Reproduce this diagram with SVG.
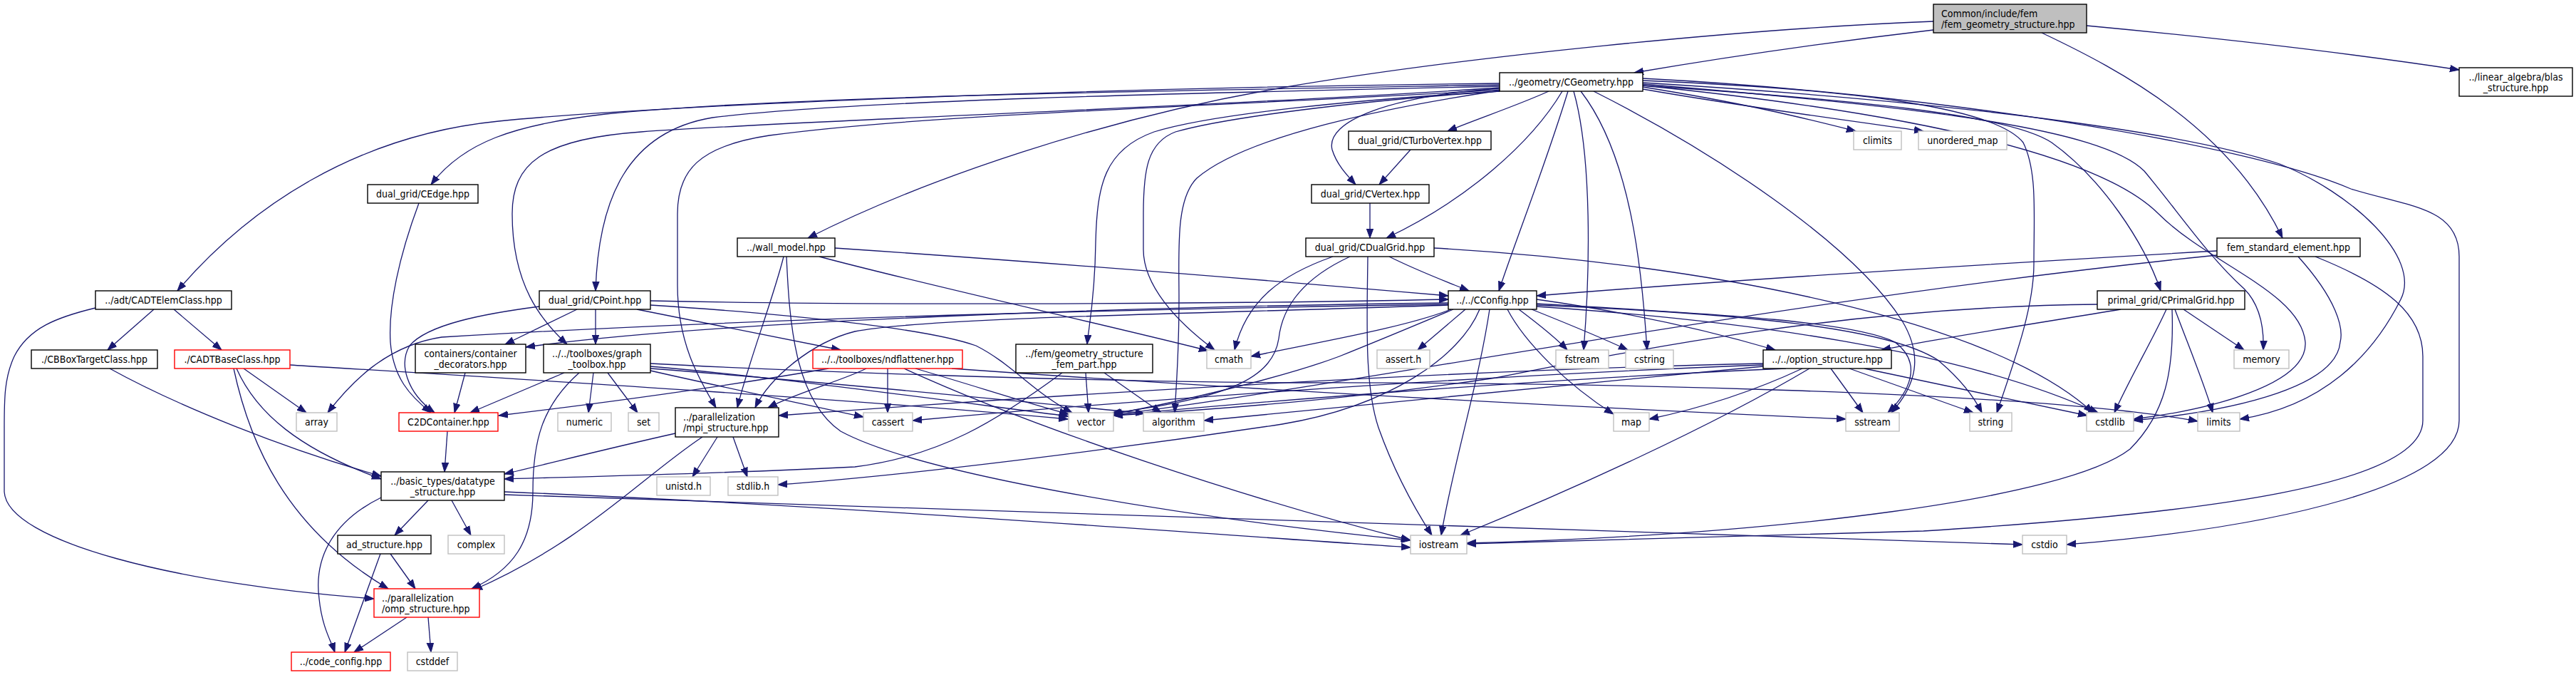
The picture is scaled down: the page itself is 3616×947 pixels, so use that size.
<svg xmlns="http://www.w3.org/2000/svg" width="3616" height="947" viewBox="0 0 3616 947">
<defs>
<style>
.e{fill:none;stroke:#191970;stroke-width:1.3;marker-end:url(#ah)}
.n rect{fill:#fff;stroke:#000;stroke-width:1.4}
.sys rect{stroke:#bfbfbf}
.red rect{stroke:#ff0000}
.root rect{fill:#bfbfbf}
text{font-family:'DejaVu Sans Condensed','DejaVu Sans',sans-serif;font-size:14px;fill:#000;text-anchor:middle}
.l text{text-anchor:start}
</style>
<marker id="ah" markerUnits="userSpaceOnUse" markerWidth="14" markerHeight="11" refX="13" refY="5.5" orient="auto"><path d="M0,0.8 L13,5.5 L0,10.2 z" fill="#191970" stroke="#191970" stroke-width="1"/></marker>
</defs>
<rect width="3616" height="947" fill="#fff"/>
<g id="edges">
<path class="e" d="M2714,42 C2560,60 2400,84 2294,102"/>
<path class="e" d="M2714,30 C2450,40 2050,80 1800,123 C1550,166 1300,250 1134,334"/>
<path class="e" d="M2866,46 C2980,100 3130,180 3204,334"/>
<path class="e" d="M2929,36 C3100,52 3300,75 3452,98"/>
<path class="e" d="M2105,117 C1600,122 950,145 700,170 C500,190 350,290 249,408"/>
<path class="e" d="M2105,119 C1600,128 1100,135 850,160 C720,175 650,200 605,259"/>
<path class="e" d="M2105,123 C1700,150 1100,170 900,185 C760,195 719,230 719,300 C719,400 760,450 796,483"/>
<path class="e" d="M2105,121 C1700,130 1200,140 1000,165 C880,185 840,280 836,408"/>
<path class="e" d="M2105,126 C1700,150 1300,160 1080,190 C980,205 951,240 951,300 L951,400 C951,480 980,530 1005,572"/>
<path class="e" d="M2105,128 C1900,140 1700,160 1620,185 C1550,210 1540,260 1538,340 C1537,420 1528,460 1526,483"/>
<path class="e" d="M2105,128 C1900,142 1720,165 1650,185 C1610,200 1605,240 1605,300 L1605,350 C1605,400 1650,450 1705,491"/>
<path class="e" d="M2105,127 C1950,150 1750,190 1680,250 C1650,280 1655,350 1655,420 C1655,500 1651,540 1649,579"/>
<path class="e" d="M2174,128 C2130,148 2070,168 2032,184"/>
<path class="e" d="M2105,124 C1950,135 1860,170 1870,210 C1876,230 1890,245 1903,259"/>
<path class="e" d="M2193,128 C2150,200 2060,280 1946,334"/>
<path class="e" d="M2201,128 C2170,230 2130,330 2104,408"/>
<path class="e" d="M2209,128 C2235,220 2232,380 2223,491"/>
<path class="e" d="M2219,128 C2290,220 2305,380 2312,491"/>
<path class="e" d="M2237,128 C2400,210 2600,340 2670,450 C2700,500 2690,540 2655,579"/>
<path class="e" d="M2306,122 C2450,145 2530,165 2605,184"/>
<path class="e" d="M2306,125 C2450,150 2600,170 2700,184"/>
<path class="e" d="M2306,113 C2600,125 2800,150 2840,200 C2860,240 2855,300 2855,370 C2855,430 2830,500 2803,579"/>
<path class="e" d="M2306,110 C2700,130 3150,200 3300,265 C3380,290 3452,290 3452,360 L3452,590 C3452,680 3200,740 2901,764"/>
<path class="e" d="M2306,116 C2700,140 3050,180 3200,230 C3300,270 3400,360 3370,420 C3330,500 3260,570 3144,588"/>
<path class="e" d="M2306,120 C2600,140 2820,160 2880,200 C2950,250 3010,340 3033,408"/>
<path class="e" d="M2306,118 C2700,150 2950,180 3010,240 C3060,300 3100,360 3150,405 C3175,430 3178,465 3177,491"/>
<path class="e" d="M2306,120 C2700,160 2950,220 3030,300 C3100,370 3230,410 3236,480 C3240,540 3100,575 2995,588"/>
<path class="e" d="M1950,360 C1990,380 2030,395 2062,408"/>
<path class="e" d="M1871,360 C1800,385 1750,420 1733,491"/>
<path class="e" d="M1895,360 C1830,390 1800,430 1795,475 C1785,540 1700,560 1560,580"/>
<path class="e" d="M1920,360 C1919,450 1915,540 1935,600 C1960,670 1990,720 2010,751"/>
<path class="e" d="M2013,348 C2400,370 2800,450 2938,579"/>
<path class="e" d="M1923,285 L1923,334"/>
<path class="e" d="M1980,210 L1936,259"/>
<path class="e" d="M588,285 C560,360 545,430 548,480 C552,530 575,555 605,579"/>
<path class="e" d="M913,422 C1300,430 1800,425 2033,420"/>
<path class="e" d="M757,430 C680,440 600,455 575,485 C560,510 570,550 610,579"/>
<path class="e" d="M810,434 L709,483"/>
<path class="e" d="M836,434 L836,483"/>
<path class="e" d="M913,428 C1100,440 1300,460 1370,485 C1420,510 1450,550 1505,579"/>
<path class="e" d="M894,434 C1000,455 1100,475 1180,491"/>
<path class="e" d="M1172,348 C1500,370 1800,395 2033,415"/>
<path class="e" d="M1150,360 C1300,400 1550,455 1696,492"/>
<path class="e" d="M1100,360 C1085,420 1050,510 1035,572"/>
<path class="e" d="M1104,360 C1108,450 1115,560 1180,605 C1300,670 1700,730 1980,758"/>
<path class="e" d="M3112,352 C2800,370 2400,395 2157,415"/>
<path class="e" d="M3112,358 C2500,420 1900,540 1563,582"/>
<path class="e" d="M3226,360 C3280,420 3290,460 3285,480 C3280,540 3150,575 2995,590"/>
<path class="e" d="M3250,360 C3350,400 3401,440 3401,500 L3401,590 C3401,680 3100,720 2700,745 C2400,755 2200,760 2059,763"/>
<path class="e" d="M2944,427 C2600,430 2300,490 2100,530 C1900,560 1700,575 1563,583"/>
<path class="e" d="M2977,434 C2850,455 2720,475 2641,491"/>
<path class="e" d="M3041,434 C3020,480 2990,530 2968,579"/>
<path class="e" d="M3049,434 C3052,520 3040,580 2990,630 C2900,700 2500,750 2059,762"/>
<path class="e" d="M3053,434 C3070,480 3095,540 3106,579"/>
<path class="e" d="M3065,434 L3150,491"/>
<path class="e" d="M2033,428 C1700,440 1300,445 1200,465 C1140,480 1080,530 1060,572"/>
<path class="e" d="M2091,434 C2075,540 2040,650 2023,751"/>
<path class="e" d="M2157,430 C2450,450 2750,490 2945,579"/>
<path class="e" d="M2132,434 C2160,455 2185,475 2200,491"/>
<path class="e" d="M2157,426 C2400,440 2600,450 2660,480 C2700,510 2680,550 2650,579"/>
<path class="e" d="M2157,428 C2450,440 2650,460 2720,505 C2750,530 2770,555 2782,579"/>
<path class="e" d="M2150,434 C2190,450 2240,470 2285,491"/>
<path class="e" d="M2040,434 C1990,455 1930,480 1880,500 C1800,530 1650,565 1562,581"/>
<path class="e" d="M2033,427 C1500,435 1000,450 620,473 C540,485 490,540 460,579"/>
<path class="e" d="M2077,434 C2050,500 1950,570 1800,595 C1600,625 1300,665 1092,680"/>
<path class="e" d="M2037,434 C1970,460 1850,480 1756,500"/>
<path class="e" d="M2116,434 C2140,480 2200,540 2265,581"/>
<path class="e" d="M2057,434 L1990,491"/>
<path class="e" d="M2157,420 C2300,440 2420,470 2492,491"/>
<path class="e" d="M2033,425 C1600,430 1000,450 738,487"/>
<path class="e" d="M2530,517 C2470,545 2400,570 2315,588"/>
<path class="e" d="M2540,517 C2400,600 2200,690 2050,751"/>
<path class="e" d="M2475,514 C2200,540 1900,570 1690,590"/>
<path class="e" d="M2475,512 C2000,530 1500,570 1281,590"/>
<path class="e" d="M2507,517 C2200,530 1800,560 1563,583"/>
<path class="e" d="M2475,510 C2000,520 1400,560 1093,583"/>
<path class="e" d="M2570,517 L2615,579"/>
<path class="e" d="M2596,517 L2770,579"/>
<path class="e" d="M2617,517 L2930,583"/>
<path class="e" d="M216,434 L151,491"/>
<path class="e" d="M244,434 L311,491"/>
<path class="e" d="M134,432 C80,445 40,460 20,500 C6,530 6,560 6,600 L6,690 C10,760 250,820 525,840"/>
<path class="e" d="M154,517 C250,570 400,630 535,668"/>
<path class="e" d="M342,517 L430,579"/>
<path class="e" d="M332,517 C360,580 420,630 535,672"/>
<path class="e" d="M328,517 C350,620 400,740 545,826"/>
<path class="e" d="M407,512 C700,530 1200,560 1499,588"/>
<path class="e" d="M653,523 L638,579"/>
<path class="e" d="M792,523 L660,579"/>
<path class="e" d="M813,523 C760,570 748,620 748,690 C748,760 720,800 662,826"/>
<path class="e" d="M833,523 L826,579"/>
<path class="e" d="M853,523 L895,579"/>
<path class="e" d="M913,520 C1000,540 1120,565 1212,585"/>
<path class="e" d="M913,514 C1100,530 1350,565 1500,584"/>
<path class="e" d="M913,510 C1100,520 1500,535 1820,537 C2200,536 2850,548 3085,591"/>
<path class="e" d="M913,517 C1150,535 1400,560 1607,580"/>
<path class="e" d="M1163,517 C1000,545 850,565 700,583"/>
<path class="e" d="M1216,517 C1180,535 1120,550 1078,572"/>
<path class="e" d="M1246,517 L1246,579"/>
<path class="e" d="M1269,517 C1450,600 1750,700 1980,758"/>
<path class="e" d="M1285,517 C1380,545 1440,565 1500,581"/>
<path class="e" d="M1336,517 C1800,550 2300,575 2591,588"/>
<path class="e" d="M1007,613 L972,669"/>
<path class="e" d="M1029,613 L1049,669"/>
<path class="e" d="M948,608 C850,630 780,648 708,665"/>
<path class="e" d="M986,613 C900,670 820,760 664,828"/>
<path class="e" d="M1524,523 L1528,579"/>
<path class="e" d="M1550,523 L1630,579"/>
<path class="e" d="M1491,523 C1400,590 1320,640 1200,655 C1000,665 850,668 708,672"/>
<path class="e" d="M601,702 L554,751"/>
<path class="e" d="M634,702 L661,751"/>
<path class="e" d="M535,698 C470,730 440,780 448,840 C452,880 465,900 470,915"/>
<path class="e" d="M708,690 C1200,710 1700,750 1980,768"/>
<path class="e" d="M708,694 C1300,715 1900,735 2839,764"/>
<path class="e" d="M534,777 L484,915"/>
<path class="e" d="M548,777 L583,826"/>
<path class="e" d="M571,866 L497,915"/>
<path class="e" d="M601,866 L605,915"/>
<path class="e" d="M628,605 L624,662"/>
</g>
<g id="n_common" class="n root l"><rect x="2714" y="6" width="215" height="40"/><text x="2725" y="23.5">Common/include/fem</text><text x="2725" y="38.5">/fem_geometry_structure.hpp</text></g>
<g id="n_cgeometry" class="n"><rect x="2105" y="102" width="201" height="26"/><text x="2205.5" y="120">../geometry/CGeometry.hpp</text></g>
<g id="n_blas" class="n"><rect x="3452" y="95" width="159" height="40"/><text x="3531.5" y="112.5">../linear_algebra/blas</text><text x="3531.5" y="127.5">_structure.hpp</text></g>
<g id="n_cturbovertex" class="n"><rect x="1893" y="184" width="200" height="26"/><text x="1993" y="202">dual_grid/CTurboVertex.hpp</text></g>
<g id="n_climits" class="n sys"><rect x="2602" y="184" width="67" height="26"/><text x="2635.5" y="202">climits</text></g>
<g id="n_unordered_map" class="n sys"><rect x="2693" y="184" width="124" height="26"/><text x="2755" y="202">unordered_map</text></g>
<g id="n_cedge" class="n"><rect x="516" y="259" width="155" height="26"/><text x="593.5" y="277">dual_grid/CEdge.hpp</text></g>
<g id="n_cvertex" class="n"><rect x="1841" y="259" width="165" height="26"/><text x="1923.5" y="277">dual_grid/CVertex.hpp</text></g>
<g id="n_wall_model" class="n"><rect x="1035" y="334" width="137" height="26"/><text x="1103.5" y="352">../wall_model.hpp</text></g>
<g id="n_cdualgrid" class="n"><rect x="1833" y="334" width="180" height="26"/><text x="1923" y="352">dual_grid/CDualGrid.hpp</text></g>
<g id="n_fem_standard_element" class="n"><rect x="3112" y="334" width="201" height="26"/><text x="3212.5" y="352">fem_standard_element.hpp</text></g>
<g id="n_cadtelemclass" class="n"><rect x="134" y="408" width="191" height="26"/><text x="229.5" y="426">../adt/CADTElemClass.hpp</text></g>
<g id="n_cpoint" class="n"><rect x="757" y="408" width="156" height="26"/><text x="835" y="426">dual_grid/CPoint.hpp</text></g>
<g id="n_cconfig" class="n"><rect x="2033" y="408" width="124" height="26"/><text x="2095" y="426">../../CConfig.hpp</text></g>
<g id="n_cprimalgrid" class="n"><rect x="2944" y="408" width="207" height="26"/><text x="3047.5" y="426">primal_grid/CPrimalGrid.hpp</text></g>
<g id="n_cbboxtargetclass" class="n"><rect x="44" y="491" width="177" height="26"/><text x="132.5" y="509">./CBBoxTargetClass.hpp</text></g>
<g id="n_cadtbaseclass" class="n red"><rect x="245" y="491" width="162" height="26"/><text x="326" y="509">./CADTBaseClass.hpp</text></g>
<g id="n_container_decorators" class="n"><rect x="583" y="483" width="155" height="40"/><text x="660.5" y="500.5">containers/container</text><text x="660.5" y="515.5">_decorators.hpp</text></g>
<g id="n_graph_toolbox" class="n"><rect x="763" y="483" width="150" height="40"/><text x="838" y="500.5">../../toolboxes/graph</text><text x="838" y="515.5">_toolbox.hpp</text></g>
<g id="n_ndflattener" class="n red"><rect x="1141" y="491" width="210" height="26"/><text x="1246" y="509">../../toolboxes/ndflattener.hpp</text></g>
<g id="n_fem_part" class="n"><rect x="1426" y="483" width="192" height="40"/><text x="1522" y="500.5">../fem/geometry_structure</text><text x="1522" y="515.5">_fem_part.hpp</text></g>
<g id="n_cmath" class="n sys"><rect x="1694" y="491" width="62" height="26"/><text x="1725" y="509">cmath</text></g>
<g id="n_assert_h" class="n sys"><rect x="1933" y="491" width="74" height="26"/><text x="1970" y="509">assert.h</text></g>
<g id="n_fstream" class="n sys"><rect x="2184" y="491" width="74" height="26"/><text x="2221" y="509">fstream</text></g>
<g id="n_cstring" class="n sys"><rect x="2282" y="491" width="67" height="26"/><text x="2315.5" y="509">cstring</text></g>
<g id="n_option_structure" class="n"><rect x="2475" y="491" width="180" height="26"/><text x="2565" y="509">../../option_structure.hpp</text></g>
<g id="n_memory" class="n sys"><rect x="3136" y="491" width="77" height="26"/><text x="3174.5" y="509">memory</text></g>
<g id="n_array" class="n sys"><rect x="416" y="579" width="57" height="26"/><text x="444.5" y="597">array</text></g>
<g id="n_c2dcontainer" class="n red"><rect x="560" y="579" width="139" height="26"/><text x="629.5" y="597">C2DContainer.hpp</text></g>
<g id="n_numeric" class="n sys"><rect x="783" y="579" width="75" height="26"/><text x="820.5" y="597">numeric</text></g>
<g id="n_set" class="n sys"><rect x="882" y="579" width="43" height="26"/><text x="903.5" y="597">set</text></g>
<g id="n_mpi_structure" class="n l"><rect x="948" y="572" width="145" height="41"/><text x="959" y="590">../parallelization</text><text x="959" y="605">/mpi_structure.hpp</text></g>
<g id="n_cassert" class="n sys"><rect x="1212" y="579" width="69" height="26"/><text x="1246.5" y="597">cassert</text></g>
<g id="n_vector" class="n sys"><rect x="1500" y="579" width="63" height="26"/><text x="1531.5" y="597">vector</text></g>
<g id="n_algorithm" class="n sys"><rect x="1605" y="579" width="85" height="26"/><text x="1647.5" y="597">algorithm</text></g>
<g id="n_map" class="n sys"><rect x="2265" y="579" width="50" height="26"/><text x="2290" y="597">map</text></g>
<g id="n_sstream" class="n sys"><rect x="2591" y="579" width="75" height="26"/><text x="2628.5" y="597">sstream</text></g>
<g id="n_string" class="n sys"><rect x="2765" y="579" width="59" height="26"/><text x="2794.5" y="597">string</text></g>
<g id="n_cstdlib" class="n sys"><rect x="2929" y="579" width="66" height="26"/><text x="2962" y="597">cstdlib</text></g>
<g id="n_limits" class="n sys"><rect x="3085" y="579" width="59" height="26"/><text x="3114.5" y="597">limits</text></g>
<g id="n_datatype_structure" class="n"><rect x="535" y="662" width="173" height="40"/><text x="621.5" y="679.5">../basic_types/datatype</text><text x="621.5" y="694.5">_structure.hpp</text></g>
<g id="n_unistd_h" class="n sys"><rect x="922" y="669" width="75" height="26"/><text x="959.5" y="687">unistd.h</text></g>
<g id="n_stdlib_h" class="n sys"><rect x="1022" y="669" width="70" height="26"/><text x="1057" y="687">stdlib.h</text></g>
<g id="n_ad_structure" class="n"><rect x="474" y="751" width="131" height="26"/><text x="539.5" y="769">ad_structure.hpp</text></g>
<g id="n_complex" class="n sys"><rect x="629" y="751" width="79" height="26"/><text x="668.5" y="769">complex</text></g>
<g id="n_iostream" class="n sys"><rect x="1980" y="751" width="79" height="26"/><text x="2019.5" y="769">iostream</text></g>
<g id="n_cstdio" class="n sys"><rect x="2839" y="751" width="62" height="26"/><text x="2870" y="769">cstdio</text></g>
<g id="n_omp_structure" class="n red l"><rect x="525" y="826" width="148" height="40"/><text x="536" y="843.5">../parallelization</text><text x="536" y="858.5">/omp_structure.hpp</text></g>
<g id="n_code_config" class="n red"><rect x="409" y="915" width="139" height="26"/><text x="478.5" y="933">../code_config.hpp</text></g>
<g id="n_cstddef" class="n sys"><rect x="572" y="915" width="70" height="26"/><text x="607" y="933">cstddef</text></g>
</svg>
